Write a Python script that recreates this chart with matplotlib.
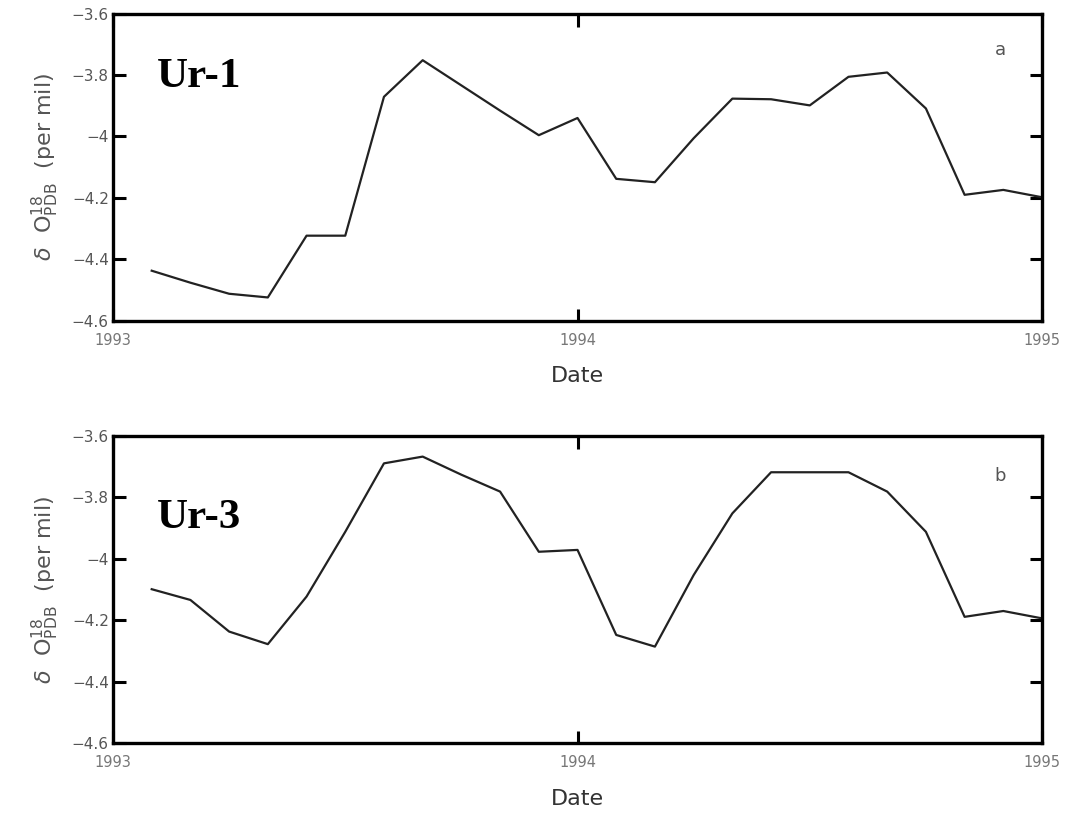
import matplotlib
matplotlib.use("Agg")
import matplotlib.pyplot as plt
import numpy as np

# monthly d18O values, months 1..24 after Jan 1993
months = np.arange(1, 25)
ur1 = [-4.437, -4.476, -4.512, -4.524, -4.323, -4.323, -3.871, -3.752,
       -3.834, -3.916, -3.996, -3.940, -4.138, -4.149, -4.006, -3.877,
       -3.879, -3.899, -3.806, -3.792, -3.909, -4.190, -4.174, -4.198]
ur3 = [-4.099, -4.134, -4.237, -4.278, -4.123, -3.912, -3.689, -3.667,
       -3.726, -3.781, -3.977, -3.971, -4.248, -4.286, -4.053, -3.852,
       -3.718, -3.718, -3.718, -3.781, -3.912, -4.189, -4.170, -4.194]

yticks = [-3.6, -3.8, -4.0, -4.2, -4.4, -4.6]
ytick_labels = ["\u22123.6", "\u22123.8", "\u22124", "\u22124.2", "\u22124.4", "\u22124.6"]
xticks = [1993, 1994, 1995]
xtick_labels = ["1993", "1994", "1995"]

x = 1993 + months / 12.0
grey = "#555555"

fig = plt.figure(figsize=(10.67, 8.19), dpi=100)
ax1 = fig.add_axes([0.1059, 0.6083, 0.8707, 0.3752])
ax2 = fig.add_axes([0.1059, 0.0928, 0.8707, 0.3748])

for ax, y, tag in [(ax1, ur1, "a"), (ax2, ur3, "b")]:
    ax.plot(x, y, color="#222222", lw=1.6)
    ax.set_xlim(1993, 1995)
    ax.set_ylim(-4.6, -3.6)
    ax.set_yticks(yticks)
    ax.set_yticklabels(ytick_labels)
    ax.set_xticks(xticks)
    ax.set_xticklabels(xtick_labels)
    ax.tick_params(direction="in", length=9, width=2.2, top=True, right=True,
                   labelsize=11, labelcolor=grey, pad=3)
    ax.tick_params(axis="x", labelsize=10.5, labelcolor="#777777", pad=9)
    for s in ax.spines.values():
        s.set_linewidth(2.4)
    ax.set_xlabel("Date", fontsize=16, color="#333333", labelpad=13)
    ax.set_ylabel(r"$\delta\ \ \mathrm{O}^{18}_{\mathrm{PDB}}$  (per mil)",
                  fontsize=16, color=grey, labelpad=8)
    ax.text(0.955, 0.88 if tag == "a" else 0.87, tag, transform=ax.transAxes,
            fontsize=13, color=grey, ha="center", va="center")

ax1.text(0.047, 0.76, "Ur-1", transform=ax1.transAxes, fontsize=31,
         fontweight="bold", family="Liberation Serif", va="baseline")
ax2.text(0.047, 0.70, "Ur-3", transform=ax2.transAxes, fontsize=31,
         fontweight="bold", family="Liberation Serif", va="baseline")

fig.savefig("out.png", dpi=100)
